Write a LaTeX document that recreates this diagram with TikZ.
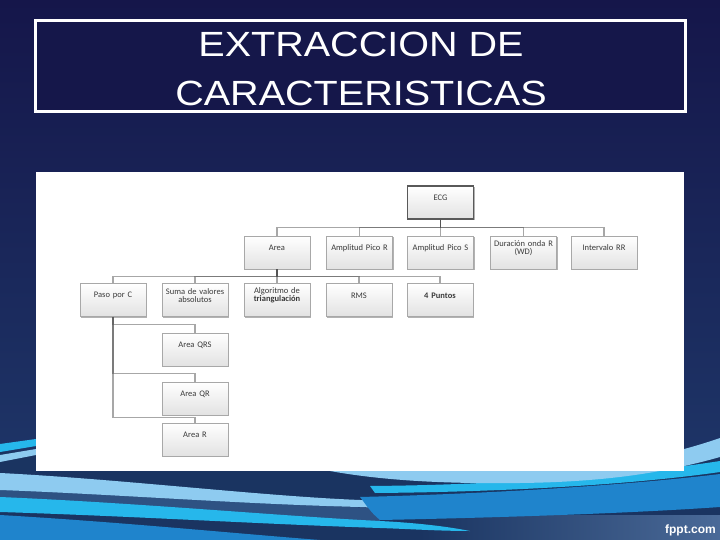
\documentclass[tikz,border=0pt]{standalone}
\usepackage{fontspec}
\setmainfont{Liberation Sans}
\newfontfamily\boxfont{Carlito}
\usetikzlibrary{shadows}
\definecolor{bgtop}{HTML}{15164A}
\definecolor{bgbot}{HTML}{1F3A6C}
\definecolor{titlefill}{HTML}{15174A}
\definecolor{wnavy}{HTML}{1A3461}
\definecolor{wmid}{HTML}{2E5283}
\definecolor{wgray}{HTML}{4A6A98}
\definecolor{wlight}{HTML}{8ECBF0}
\definecolor{wcyan}{HTML}{26B7EB}
\definecolor{wblue}{HTML}{1F84CC}
\definecolor{boxline}{HTML}{A8A8A8}
\definecolor{boxgray}{HTML}{E2E2E2}
\definecolor{boxtext}{HTML}{3A3A3A}
\definecolor{linkc}{HTML}{505050}
\begin{document}
\begin{tikzpicture}[x=1pt,y=-1pt,
  boxtxt/.style={text=boxtext, font=\boxfont\fontsize{8.5}{8.5}\selectfont, align=center, text width=62pt, inner sep=0pt, yshift=4.5pt},
  box/.style={draw=boxline, line width=0.6pt, top color=white, bottom color=boxgray,
    minimum width=66pt, minimum height=33pt, inner sep=0pt,
    drop shadow={shadow xshift=1.4pt, shadow yshift=-1.4pt, opacity=0.5, fill=black!60},
    label={[boxtxt]center:#1}},
  rootbox/.style={box=#1, draw=black!65, line width=1.2pt},
  link/.style={draw=linkc, line width=1.1pt, draw opacity=0.5},
  titletxt/.style={text=white, font=\fontsize{35}{35}\selectfont, inner sep=0pt, anchor=base}]
% background
\useasboundingbox (0,0) rectangle (720,540);
\shade[top color=bgtop, bottom color=bgbot] (0,0) rectangle (720,540);
% waves
\fill[wnavy] (0,452) rectangle (720,540);
\shade[left color=wnavy, right color=wgray] (420,515) rectangle (720,540);
% top-left strips beside the panel
\fill[wcyan] (0,444) -- (36,439) -- (36,446) -- (0,452) -- cycle;
\fill[wlight] (0,455) -- (36,449) -- (36,455) -- (0,462) -- cycle;
% left medium band between light and cyan
\fill[wmid] (0,488) .. controls (150,495) and (280,505) .. (380,508) -- (380,522) .. controls (280,520) and (150,510) .. (0,500) -- cycle;
% left medium blue band at the bottom
\fill[wblue] (0,515) .. controls (120,522) and (230,533) .. (320,540) -- (0,540) -- cycle;
% left cyan ribbon
\fill[wcyan] (0,497) .. controls (140,503) and (280,516) .. (380,521) .. controls (420,523) and (450,527) .. (470,531) .. controls (440,531) and (410,529) .. (380,528) .. controls (260,524) and (130,516) .. (0,512) -- cycle;
% left light ribbon
\fill[wlight] (0,473) .. controls (120,479) and (260,496) .. (360,500) .. controls (390,502) and (420,505) .. (440,507) .. controls (410,509) and (385,508) .. (360,507) .. controls (240,504) and (110,494) .. (0,490) -- cycle;
% right medium blue band
\fill[wblue] (360,497) .. controls (480,494) and (620,486) .. (720,474) -- (720,507) .. controls (620,514) and (480,518) .. (380,520) .. controls (370,512) and (365,503) .. (360,497) -- cycle;
% right cyan ribbon
\fill[wcyan] (370,486) .. controls (500,485) and (630,475) .. (720,461) -- (720,472) .. controls (630,485) and (500,492) .. (375,493) -- cycle;
% right light ribbon
\fill[wlight] (330,471) -- (560,471) .. controls (620,466) and (680,452) .. (720,438) -- (720,457) .. controls (660,474) and (600,482) .. (520,483) .. controls (440,484) and (380,480) .. (330,471) -- cycle;
\node[text=white, font=\bfseries\fontsize{12}{12}\selectfont, anchor=base east, inner sep=0pt] (fppt) at (716,533) {fppt.com};
% title
\node[draw=white, line width=3pt, fill=titlefill, minimum width=650pt, minimum height=91pt, inner sep=0pt] (titlebox) at (360,66.5) {};
\node[titletxt] (t1) at (361,57) {\scalebox{1.13}[1]{EXTRACCION DE}};
\node[titletxt] (t2) at (361,106) {\scalebox{1.13}[1]{CARACTERISTICAS}};
% white panel
\fill[white] (36,172) rectangle (684,471);
% nodes
\node[rootbox={ECG}] (ecg) at (440.5,202.5) {};
\node[box={Area}] (area) at (277,252.5) {};
\node[box={Amplitud Pico R}] (ampr) at (359.5,252.5) {};
\node[box={Amplitud Pico S}] (amps) at (440.5,252.5) {};
\node[box={Duración onda R\\(WD)}] (dur) at (523.5,252.5) {};
\node[box={Intervalo RR}] (rr) at (604,252.5) {};
\node[box={Paso por C}] (paso) at (113,300) {};
\node[box={Suma de valores\\absolutos}] (suma) at (195,300) {};
\node[box={Algoritmo de\\\textbf{triangulación}}] (algo) at (277,300) {};
\node[box={RMS}] (rms) at (359,300) {};
\node[box={\textbf{4 Puntos}}] (cuatro) at (440,300) {};
\node[box={Area QRS}] (aqrs) at (195,349.5) {};
\node[box={Area QR}] (aqr) at (195,398.5) {};
\node[box={Area R}] (ar) at (195,439.5) {};
% connectors
\foreach \c in {area,ampr,amps,dur,rr}
  \draw[link] (ecg.south) -- ++(0,8) -| (\c.north);
\foreach \c in {paso,suma,algo,rms,cuatro}
  \draw[link] (area.south) -- ++(0,7) -| (\c.north);
\draw[link] (paso.south) |- ([yshift=8pt]aqrs.north) -| (aqrs.north);
\draw[link] (paso.south) |- ([yshift=8pt]aqr.north) -| (aqr.north);
\draw[link] (paso.south) |- ([yshift=5pt]ar.north) -| (ar.north);
\end{tikzpicture}
\end{document}
